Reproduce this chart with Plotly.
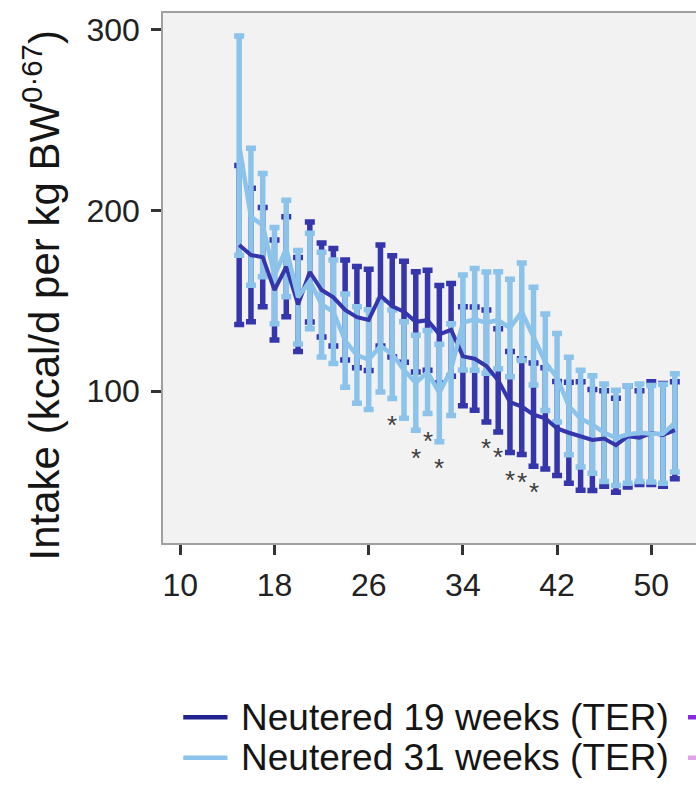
import plotly.graph_objects as go

# Weekly energy intake, mean ± error, for the two neutering-age groups
weeks = list(range(15, 53))

n19_mean = [181, 175.4, 174.2, 156, 168.9, 148, 166, 156, 152, 145,
            141, 139.5, 153, 147, 144, 138.4, 139.3, 131.5, 134, 119.3,
            118, 114, 106, 94, 91.5, 87, 85, 79.4, 77, 75.2,
            73, 73.8, 70.1, 75, 74.3, 76.8, 75.8, 78.4]
n19_err = [44, 37, 27.5, 27.7, 27.7, 26, 27.7, 26, 27, 27.7,
           28, 28, 28, 28, 28, 27.7, 27.7, 27, 25.7, 27.4,
           28.6, 31, 28.6, 28, 26.5, 28.6, 28, 26, 28, 30,
           28, 26.4, 26, 28, 26, 28.4, 28.4, 26.8]

n31_mean = [236, 196.6, 192, 164, 179, 152, 161, 148, 144, 128,
            120, 117.5, 125, 120.5, 111.7, 104.7, 110.6, 99, 112, 138,
            139.8, 138, 139.3, 135, 144, 130.5, 116, 107.5, 91.8, 84.8,
            81.6, 77, 74.2, 76, 77, 76.5, 76.4, 82.5]
n31_err = [60.7, 37.9, 28.6, 26.7, 26.7, 25.9, 26.4, 29, 28.6, 25.8,
           26.7, 27.6, 25.4, 24.5, 26.7, 26.3, 23, 27, 25.4, 26.3,
           28.2, 28, 26.8, 27, 27, 27, 26.7, 24.5, 27, 26.8,
           27, 27, 26.4, 27, 27, 26.7, 27.4, 27.2]

# Weeks with a significant group difference, and the height of each marker
sig_weeks = [28, 30, 31, 32, 36, 37, 38, 39, 40]
sig_values = [84.8, 66.6, 75.5, 61, 71.9, 66.8, 54.4, 52.9, 47.5]

legend_names = ["Neutered 19 weeks (TER)", "Neutered 31 weeks (TER)"]

x_ticks = [10, 18, 26, 34, 42, 50]
y_ticks = [100, 200, 300]

DARK = "#3535ac"
LIGHT = "#8cc3ea"
FONT = "Liberation Sans, Arial, sans-serif"

fig = go.Figure()

# error bars: 19-week group underneath, 31-week group on top
for mean, err, col in [(n19_mean, n19_err, DARK), (n31_mean, n31_err, LIGHT)]:
    fig.add_trace(go.Scatter(
        x=weeks, y=mean, mode="markers",
        marker=dict(size=1, color="rgba(0,0,0,0)"),
        error_y=dict(type="data", array=err, symmetric=True,
                     color=col, thickness=5.5, width=5),
        hoverinfo="skip", showlegend=False))

# mean lines
fig.add_trace(go.Scatter(x=weeks, y=n19_mean, mode="lines",
                         line=dict(color=DARK, width=4), showlegend=False))
fig.add_trace(go.Scatter(x=weeks, y=n31_mean, mode="lines",
                         line=dict(color=LIGHT, width=4.5), showlegend=False))

# significance asterisks
for wk, val in zip(sig_weeks, sig_values):
    fig.add_annotation(x=wk, y=val, xref="x", yref="y", text="*",
                       showarrow=False, yshift=-6,
                       font=dict(family=FONT, size=26, color="#3c3c3c"))

# y-axis title
fig.add_annotation(
    x=-0.228, y=0.468, xref="paper", yref="paper", textangle=-90,
    text="Intake (kcal/d per kg BW<sup>0·67</sup>)", showarrow=False,
    xanchor="center", yanchor="middle",
    font=dict(family=FONT, size=42, color="#151515"))

# legend drawn below the panel
rows = [(-0.329, "#22228f", "#8a2be2"), (-0.405, LIGHT, "#e3a3ea")]
for (yy, col, col2), name in zip(rows, legend_names):
    fig.add_shape(type="line", xref="paper", yref="paper",
                  x0=0.038, x1=0.121, y0=yy, y1=yy,
                  line=dict(color=col, width=4.5))
    fig.add_annotation(x=0.143, y=yy, xref="paper", yref="paper",
                       text=name, showarrow=False, xanchor="left",
                       yanchor="middle",
                       font=dict(family=FONT, size=37, color="#151515"))
    fig.add_shape(type="line", xref="paper", yref="paper",
                  x0=0.985, x1=1.05, y0=yy, y1=yy,
                  line=dict(color=col2, width=4.5))

fig.update_layout(
    width=696, height=790,
    margin=dict(l=163, r=0, t=13, b=247, pad=0),
    paper_bgcolor="white", plot_bgcolor="#f2f2f2",
    showlegend=False,
    font=dict(family=FONT, color="#333333"),
    xaxis=dict(range=[8.53, 53.8], tickvals=x_ticks, ticks="outside",
               ticklen=10, tickwidth=2.5, tickcolor="#333333",
               showgrid=False, zeroline=False,
               showline=True, linecolor="#a0a0a0", linewidth=1.5,
               mirror=True, tickfont=dict(size=32, color="#222222"),
               ticklabelstandoff=3),
    yaxis=dict(range=[15.96, 309.4], tickvals=y_ticks, ticks="outside",
               ticklen=10, tickwidth=2.5, tickcolor="#333333",
               showgrid=False, zeroline=False,
               showline=True, linecolor="#a0a0a0", linewidth=1.5,
               tickfont=dict(size=32, color="#222222"),
               ticklabelstandoff=5),
)

fig.write_html("out.html")
